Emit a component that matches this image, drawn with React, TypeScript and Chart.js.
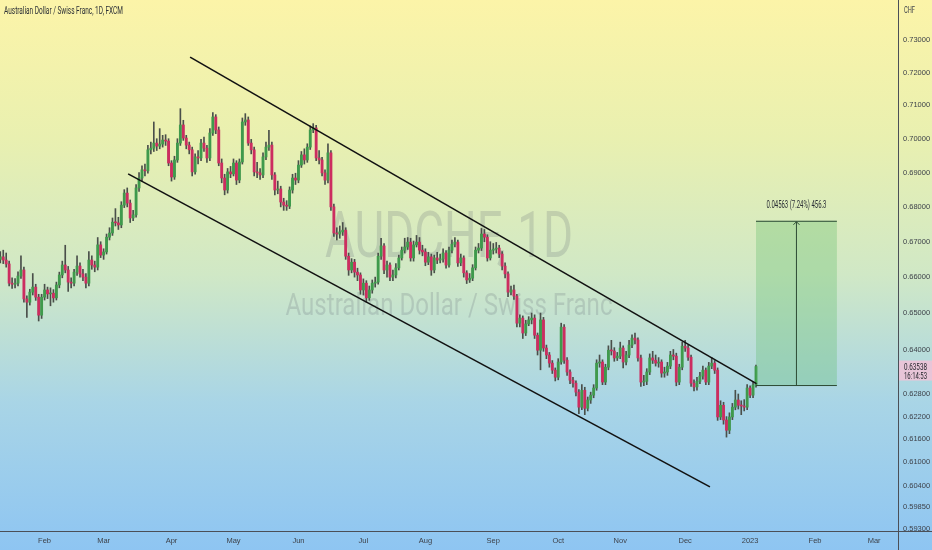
import React, { useEffect, useRef } from 'react'
import { Chart, registerables } from 'chart.js'

Chart.register(...registerables)

// daily candles, AUDCHF (FXCM), from 11 Jan 2022 to 4 Jan 2023
const firstOpen = 0.665
const closes = [
  0.6657, 0.6648, 0.6637, 0.6583, 0.658, 0.6583, 0.6603, 0.662, 0.6539, 0.653,
  0.6558, 0.6572, 0.6544, 0.6494, 0.6544, 0.6564, 0.6553, 0.6555, 0.6542, 0.6578,
  0.6606, 0.6634, 0.662, 0.6586, 0.6583, 0.6614, 0.6631, 0.6609, 0.66, 0.6583,
  0.6648, 0.6634, 0.6628, 0.6691, 0.6662, 0.6671, 0.6713, 0.6725, 0.6756, 0.6754,
  0.6748, 0.6805, 0.684, 0.6811, 0.6768, 0.6777, 0.6855, 0.6884, 0.6908, 0.6905,
  0.6967, 0.6972, 0.6987, 0.6978, 0.6984, 0.6996, 0.6993, 0.6928, 0.6887, 0.6937,
  0.6987, 0.7041, 0.7002, 0.6981, 0.6967, 0.6902, 0.6946, 0.6943, 0.6987, 0.6972,
  0.6943, 0.7017, 0.7065, 0.7026, 0.6928, 0.6884, 0.6849, 0.6902, 0.6896, 0.6928,
  0.6878, 0.6931, 0.705, 0.7056, 0.6987, 0.6967, 0.6902, 0.6899, 0.6893, 0.6946,
  0.6975, 0.6981, 0.6893, 0.6849, 0.6852, 0.6814, 0.6805, 0.6802, 0.6849, 0.6884,
  0.6878, 0.6922, 0.6952, 0.6937, 0.6975, 0.7026, 0.7032, 0.6943, 0.6937, 0.6899,
  0.6878, 0.6958, 0.68, 0.6725, 0.6722, 0.6728, 0.6733, 0.6659, 0.662, 0.6642,
  0.6614, 0.6606, 0.6564, 0.6583, 0.6542, 0.6564, 0.6583, 0.6586, 0.6659, 0.6688,
  0.662, 0.6634, 0.66, 0.6606, 0.6626, 0.6654, 0.6676, 0.6685, 0.6699, 0.6654,
  0.6691, 0.6699, 0.6676, 0.6671, 0.6642, 0.6657, 0.662, 0.6654, 0.6648, 0.6651,
  0.6668, 0.6634, 0.6676, 0.6693, 0.6699, 0.664, 0.6654, 0.6612, 0.6592, 0.6597,
  0.6626, 0.6676, 0.6682, 0.6722, 0.6713, 0.6654, 0.6676, 0.6679, 0.6682, 0.6665,
  0.6631, 0.6609, 0.6558, 0.6564, 0.6547, 0.6472, 0.6486, 0.6445, 0.647, 0.6481,
  0.6486, 0.6439, 0.6398, 0.6481, 0.6404, 0.6385, 0.6363, 0.6344, 0.6325, 0.6366,
  0.6461, 0.6371, 0.6339, 0.6317, 0.6309, 0.6285, 0.6245, 0.629, 0.6242, 0.6264,
  0.6277, 0.6296, 0.6363, 0.6366, 0.6312, 0.6352, 0.6398, 0.6396, 0.6377, 0.6382,
  0.6404, 0.6366, 0.6385, 0.6412, 0.6431, 0.6426, 0.6377, 0.6312, 0.6314, 0.6339,
  0.6377, 0.6371, 0.6363, 0.6366, 0.6336, 0.6339, 0.6355, 0.6385, 0.6382, 0.6312,
  0.6352, 0.6409, 0.6404, 0.6379, 0.6309, 0.6299, 0.6314, 0.6328, 0.6344, 0.6312,
  0.6355, 0.6363, 0.6344, 0.6219, 0.625, 0.6211, 0.6184, 0.6219, 0.6245, 0.6264,
  0.625, 0.6248, 0.6245, 0.6296, 0.6277, 0.6304, 0.63538,
]
const highs = [
  0.6672, 0.6676, 0.6668, 0.6645, 0.6598, 0.6596, 0.6615, 0.666, 0.6628, 0.6548,
  0.6566, 0.661, 0.658, 0.6552, 0.6552, 0.658, 0.6572, 0.657, 0.6565, 0.6586,
  0.6614, 0.6645, 0.669, 0.663, 0.6598, 0.6622, 0.666, 0.664, 0.6622, 0.661,
  0.6672, 0.666, 0.6645, 0.6712, 0.67, 0.668, 0.6722, 0.674, 0.6768, 0.6795,
  0.677, 0.6815, 0.685, 0.6855, 0.682, 0.679, 0.6865, 0.69, 0.692, 0.6925,
  0.698, 0.699, 0.705, 0.7, 0.703, 0.701, 0.7012, 0.7, 0.6935, 0.6948,
  0.7, 0.709, 0.7055, 0.701, 0.699, 0.6975, 0.6955, 0.6965, 0.6998, 0.7005,
  0.698, 0.703, 0.7078, 0.7072, 0.7035, 0.694, 0.6895, 0.6912, 0.6918, 0.694,
  0.6935, 0.694, 0.7062, 0.7075, 0.7065, 0.6998, 0.6975, 0.693, 0.6912, 0.6958,
  0.699, 0.7025, 0.699, 0.69, 0.6875, 0.686, 0.6825, 0.6818, 0.6858, 0.6895,
  0.6898, 0.6935, 0.6962, 0.697, 0.6985, 0.7038, 0.7045, 0.704, 0.6965, 0.6945,
  0.6908, 0.6985, 0.6965, 0.6808, 0.674, 0.6745, 0.6755, 0.674, 0.6668, 0.6652,
  0.665, 0.6625, 0.6612, 0.6595, 0.659, 0.6575, 0.6592, 0.66, 0.6668, 0.671,
  0.6695, 0.6645, 0.664, 0.662, 0.6638, 0.6662, 0.6685, 0.671, 0.6712, 0.671,
  0.6702, 0.6718, 0.6712, 0.669, 0.668, 0.667, 0.6665, 0.6662, 0.667, 0.6665,
  0.668, 0.6675, 0.6685, 0.6705, 0.6712, 0.6705, 0.6665, 0.666, 0.6618, 0.661,
  0.6635, 0.6685, 0.6695, 0.6738, 0.6735, 0.672, 0.67, 0.6695, 0.6698, 0.669,
  0.6672, 0.664, 0.6615, 0.6575, 0.6578, 0.6552, 0.6495, 0.6492, 0.648, 0.649,
  0.65, 0.6495, 0.6445, 0.65, 0.6488, 0.6412, 0.6392, 0.637, 0.635, 0.6375,
  0.6472, 0.6468, 0.6378, 0.6345, 0.6325, 0.6315, 0.6292, 0.6305, 0.6298, 0.6272,
  0.6285, 0.6305, 0.6372, 0.6385, 0.6372, 0.636, 0.641, 0.6425, 0.6405, 0.6392,
  0.642, 0.641, 0.6395, 0.6425, 0.644, 0.6445, 0.6432, 0.6385, 0.633, 0.6348,
  0.6388, 0.6395, 0.6385, 0.6378, 0.6372, 0.6352, 0.6365, 0.6395, 0.64, 0.639,
  0.636, 0.642, 0.6425, 0.6412, 0.6385, 0.6318, 0.6325, 0.6338, 0.6355, 0.635,
  0.6365, 0.6378, 0.637, 0.635, 0.6262, 0.6258, 0.622, 0.623, 0.6255, 0.629,
  0.628, 0.6262, 0.6265, 0.6305, 0.6302, 0.6312, 0.6358,
]
const lows = [
  0.664, 0.6638, 0.6628, 0.6575, 0.6568, 0.657, 0.6575, 0.6596, 0.653, 0.6488,
  0.6522, 0.655, 0.6535, 0.6478, 0.6485, 0.6536, 0.654, 0.652, 0.653, 0.6536,
  0.657, 0.6598, 0.6612, 0.656, 0.657, 0.6575, 0.6605, 0.66, 0.659, 0.657,
  0.6575, 0.6622, 0.6615, 0.662, 0.6655, 0.665, 0.6665, 0.6705, 0.6718, 0.6745,
  0.6735, 0.674, 0.6798, 0.68, 0.6755, 0.676, 0.677, 0.6845, 0.6875, 0.689,
  0.6898, 0.6955, 0.6962, 0.6965, 0.697, 0.6975, 0.698, 0.692, 0.6875, 0.688,
  0.693, 0.698, 0.6995, 0.697, 0.6955, 0.689, 0.6895, 0.6925, 0.6935, 0.6962,
  0.693, 0.6935, 0.701, 0.7015, 0.692, 0.687, 0.6835, 0.684, 0.6885, 0.689,
  0.6865, 0.687, 0.6925, 0.704, 0.698, 0.6955, 0.689, 0.6885, 0.688, 0.6885,
  0.6938, 0.6965, 0.688, 0.6835, 0.6838, 0.68, 0.679, 0.679, 0.6795, 0.684,
  0.6865, 0.687, 0.6915, 0.6925, 0.693, 0.6968, 0.7018, 0.6935, 0.6925, 0.689,
  0.6865, 0.687, 0.679, 0.6715, 0.6705, 0.671, 0.6718, 0.665, 0.6605, 0.6612,
  0.66, 0.659, 0.6552, 0.655, 0.653, 0.6535, 0.6555, 0.6572, 0.658, 0.665,
  0.661, 0.66, 0.659, 0.659, 0.6598, 0.662, 0.6648, 0.6668, 0.6678, 0.6645,
  0.6645, 0.6685, 0.6665, 0.666, 0.6632, 0.6635, 0.6605, 0.6612, 0.6638, 0.664,
  0.6642, 0.6625, 0.6628, 0.6668, 0.6685, 0.663, 0.6632, 0.66, 0.6582, 0.6585,
  0.659, 0.662, 0.6668, 0.6675, 0.67, 0.6645, 0.6648, 0.6665, 0.6668, 0.6655,
  0.662, 0.6598, 0.6545, 0.655, 0.6538, 0.6462, 0.6462, 0.643, 0.6438, 0.6465,
  0.647, 0.643, 0.6385, 0.6345, 0.6395, 0.6375, 0.6352, 0.6335, 0.6315, 0.6318,
  0.636, 0.6362, 0.633, 0.6308, 0.6298, 0.6275, 0.6228, 0.6238, 0.6225, 0.6235,
  0.6255, 0.627, 0.629, 0.6352, 0.6305, 0.6305, 0.6345, 0.6385, 0.6368, 0.637,
  0.6375, 0.635, 0.6358, 0.6378, 0.6405, 0.6415, 0.6368, 0.63, 0.6302, 0.6305,
  0.6332, 0.6362, 0.6355, 0.6352, 0.6325, 0.6325, 0.633, 0.6348, 0.6372, 0.6302,
  0.6305, 0.6345, 0.6395, 0.637, 0.63, 0.6288, 0.629, 0.6308, 0.632, 0.6305,
  0.6305, 0.6348, 0.6335, 0.621, 0.6212, 0.62, 0.6166, 0.6175, 0.6212, 0.6238,
  0.624, 0.6225, 0.6235, 0.6238, 0.627, 0.627, 0.6298,
]
const opens = closes.map((_, i) => (i === 0 ? firstOpen : closes[i - 1]))

// first trading day of each month, as candle index
const monthTicks = [15, 35, 58, 79, 101, 123, 144, 167, 189, 210, 232, 254, 276, 296]
const monthLabels = ['Feb', 'Mar', 'Apr', 'May', 'Jun', 'Jul', 'Aug', 'Sep', 'Oct', 'Nov', 'Dec', '2023', 'Feb', 'Mar']
const priceTicks = [0.73, 0.72, 0.71, 0.7, 0.69, 0.68, 0.67, 0.66, 0.65, 0.64, 0.628, 0.622, 0.616, 0.61, 0.604, 0.5985, 0.593]

const upperLine = [{ x: 64.3, y: 0.7247 }, { x: 256.3, y: 0.6307 }]
const lowerLine = [{ x: 43.3, y: 0.6896 }, { x: 240.4, y: 0.6037 }]

const measureFrom = 0.6304
const measureTo = 0.676
const measureStart = 256
const measureEnd = 283.4
const measureText = '0.04563 (7.24%) 456.3'

const lastPrice = '0.63538'
const countdown = '16:14:53'

const Y_MIN = 0.59247
const Y_MAX = 0.74252
const AXIS_FONT = '"Liberation Sans", Arial, sans-serif'
const GREEN = '#3f9a4c'
const RED = '#cc2d60'

function squished(ctx: CanvasRenderingContext2D, text: string, x: number, y: number, font: string, width: number, align: CanvasTextAlign) {
  ctx.save()
  ctx.font = font
  const s = width / ctx.measureText(text).width
  ctx.translate(x, y)
  ctx.scale(s, 1)
  ctx.textAlign = align
  ctx.textBaseline = 'alphabetic'
  ctx.fillText(text, 0, 0)
  ctx.restore()
}

const watermark = {
  id: 'watermark',
  beforeDatasetsDraw(chart: any) {
    const { ctx } = chart
    ctx.fillStyle = 'rgba(90, 96, 108, 0.2)'
    squished(ctx, 'AUDCHF, 1D', 449, 257, '64px Roboto', 248, 'center')
    squished(ctx, 'Australian Dollar / Swiss Franc', 449, 315, '31px Roboto', 327, 'center')
  },
}

const overlay = {
  id: 'overlay',
  afterDatasetsDraw(chart: any) {
    const { ctx } = chart
    const x = chart.scales.x
    const y = chart.scales.y
    const x1 = x.getPixelForValue(measureStart)
    const x2 = x.getPixelForValue(measureEnd)
    const yTop = y.getPixelForValue(measureTo)
    const yBot = y.getPixelForValue(measureFrom)
    const xm = (x1 + x2) / 2
    ctx.save()
    ctx.fillStyle = 'rgba(90, 185, 100, 0.3)'
    ctx.fillRect(x1, yTop, x2 - x1, yBot - yTop)
    ctx.strokeStyle = '#2c4a33'
    ctx.lineWidth = 1
    ctx.beginPath()
    ctx.moveTo(x1, yTop + 0.5)
    ctx.lineTo(x2, yTop + 0.5)
    ctx.moveTo(x1, yBot + 0.5)
    ctx.lineTo(x2, yBot + 0.5)
    ctx.moveTo(xm, yBot)
    ctx.lineTo(xm, yTop + 1)
    ctx.moveTo(xm - 3, yTop + 4)
    ctx.lineTo(xm, yTop + 1)
    ctx.lineTo(xm + 3, yTop + 4)
    ctx.stroke()
    ctx.fillStyle = '#2b2f36'
    squished(ctx, measureText, xm, yTop - 13, '10px Roboto', 60, 'center')
    ctx.restore()
  },
  afterDraw(chart: any) {
    const { ctx } = chart
    const y = chart.scales.y
    const area = chart.chartArea
    ctx.save()
    ctx.strokeStyle = '#4b4f57'
    ctx.lineWidth = 1
    ctx.beginPath()
    ctx.moveTo(0, area.bottom + 0.5)
    ctx.lineTo(chart.width, area.bottom + 0.5)
    ctx.moveTo(area.right + 0.5, 0)
    ctx.lineTo(area.right + 0.5, chart.height)
    ctx.stroke()

    ctx.fillStyle = '#2b2f36'
    squished(ctx, 'Australian Dollar / Swiss Franc, 1D, FXCM', 4, 14, '10px Roboto', 119, 'left')
    ctx.fillStyle = '#3e424a'
    squished(ctx, 'CHF', area.right + 6, 13, '9px Roboto', 11, 'left')

    const py = y.getPixelForValue(closes[closes.length - 1])
    ctx.fillStyle = '#e8c5d8'
    ctx.fillRect(area.right + 1, py - 6, chart.width - area.right - 1, 20)
    ctx.fillStyle = '#23262c'
    squished(ctx, lastPrice, area.right + 6, py + 3, '9px Roboto', 23, 'left')
    squished(ctx, countdown, area.right + 6, py + 12, '9px Roboto', 23, 'left')
    ctx.restore()
  },
}

export default function App() {
  const canvasRef = useRef<HTMLCanvasElement>(null)

  useEffect(() => {
    if (!canvasRef.current) return
    const up = closes.map((c, i) => c >= opens[i])
    const chart = new Chart(canvasRef.current, {
      type: 'bar',
      data: {
        datasets: [
          {
            type: 'line',
            data: upperLine,
            borderColor: '#111111',
            borderWidth: 1.6,
            pointRadius: 0,
            fill: false,
            order: -1,
          },
          {
            type: 'line',
            data: lowerLine,
            borderColor: '#111111',
            borderWidth: 1.6,
            pointRadius: 0,
            fill: false,
            order: -1,
          },
          {
            type: 'bar',
            data: closes.map((c, i) => ({ x: i, y: [opens[i], c] })),
            backgroundColor: up.map(u => (u ? GREEN : RED)),
            barThickness: 2.2,
            grouped: false,
            minBarLength: 1,
            borderWidth: 0,
            order: 0,
          },
          {
            type: 'bar',
            data: closes.map((_, i) => ({ x: i, y: [lows[i], highs[i]] })),
            backgroundColor: '#4a4f4a',
            barThickness: 1,
            grouped: false,
            borderWidth: 0,
            order: 1,
          },
        ] as any,
      },
      options: {
        animation: false,
        responsive: false,
        maintainAspectRatio: false,
        layout: { padding: 0 },
        plugins: { legend: { display: false }, tooltip: { enabled: false } },
        scales: {
          x: {
            type: 'linear',
            min: -0.1,
            max: 304.1,
            offset: false,
            grid: { display: false, drawTicks: false },
            border: { display: false },
            afterBuildTicks: (s: any) => {
              s.ticks = monthTicks.map(v => ({ value: v }))
            },
            afterFit: (s: any) => {
              s.height = 19
              s.paddingLeft = 0
              s.paddingRight = 0
            },
            ticks: {
              autoSkip: false,
              maxRotation: 0,
              padding: 5,
              color: '#3e424a',
              font: { size: 7.5, family: AXIS_FONT },
              callback: (v: any) => monthLabels[monthTicks.indexOf(v)] ?? '',
            },
          },
          y: {
            type: 'logarithmic',
            position: 'right',
            bounds: 'data',
            min: Y_MIN,
            max: Y_MAX,
            grid: { display: false, drawTicks: false },
            border: { display: false },
            afterBuildTicks: (s: any) => {
              s.ticks = priceTicks.map(v => ({ value: v }))
              s.min = Y_MIN
              s.max = Y_MAX
            },
            afterFit: (s: any) => {
              s.width = 34
              s.paddingTop = 0
              s.paddingBottom = 0
            },
            ticks: {
              autoSkip: false,
              padding: 5,
              color: '#3e424a',
              font: { size: 7.5, family: AXIS_FONT },
              callback: (v: any) => Number(v).toFixed(5),
            },
          },
        },
      } as any,
      plugins: [watermark, overlay],
    })
    return () => chart.destroy()
  }, [])

  return (
    <div
      style={{
        position: 'fixed',
        left: 0,
        top: 0,
        width: 932,
        height: 550,
        background: 'linear-gradient(to bottom, #fcf4a8 0%, #e9f0b0 25%, #d0e8c6 50%, #a9d5e6 73%, #8ec5f2 100%)',
      }}
    >
      <canvas ref={canvasRef} width={932} height={550} style={{ display: 'block', width: 932, height: 550 }} />
    </div>
  )
}
